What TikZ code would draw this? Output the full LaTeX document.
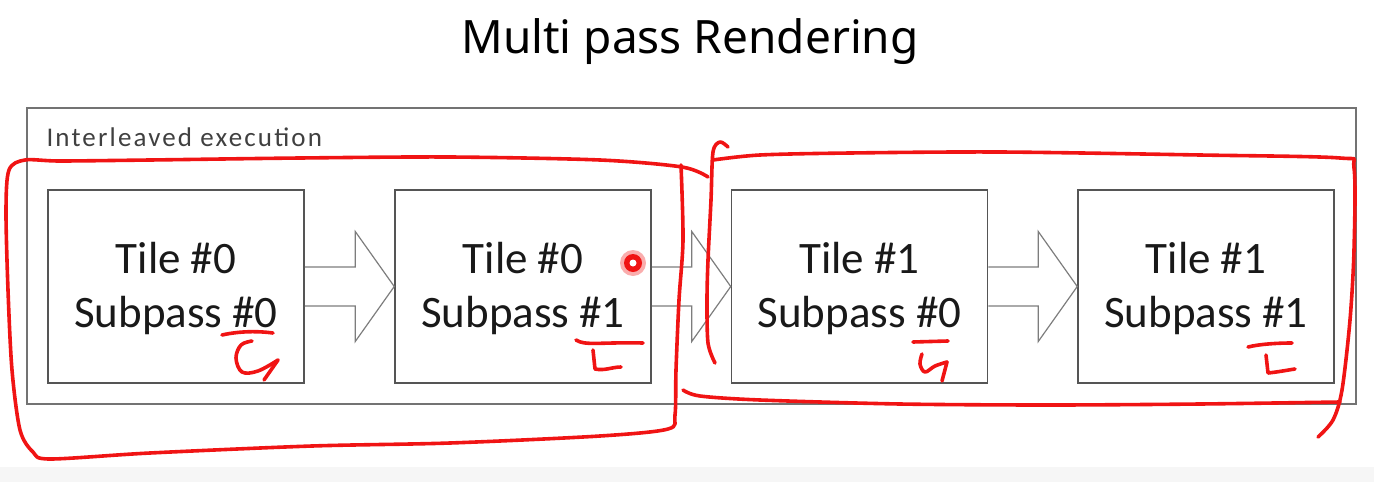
\documentclass[tikz,border=0pt]{standalone}
\usepackage{fontspec}
\setmainfont{Carlito}
\newfontfamily\titlefont{Noto Sans}
\newfontfamily\labelfont[LetterSpace=8]{Carlito}
\usetikzlibrary{calc}
\definecolor{boxgray}{RGB}{85,85,85}
\definecolor{outergray}{RGB}{115,115,115}
\definecolor{arrowgray}{RGB}{125,125,125}
\definecolor{annot}{RGB}{240,20,20}
\definecolor{band}{RGB}{246,246,246}
\newcommand{\upstrut}{\rule{0pt}{35pt}}
\tikzset{
  tilebox/.style={draw=boxgray, line width=1.5pt, minimum width=256pt, minimum height=193pt,
    inner sep=0pt, align=center, font=\fontsize{45}{54}\selectfont, text=black!90},
  outerbox/.style={draw=outergray, line width=1.3pt, minimum width=1329pt, minimum height=296pt, inner sep=0pt},
  blockarrow/.style={draw=arrowgray, line width=1.2pt, line join=miter},
  annotline/.style={draw=annot, line width=3.6pt, line cap=round, line join=round},
}
\begin{document}
\begin{tikzpicture}[x=1pt,y=-1pt]
\useasboundingbox (0,0) rectangle (1374,482);
\fill[band] (0,467) rectangle (1374,482);
% title
\node[font=\titlefont\fontsize{46}{52}\selectfont, anchor=base] (title) at (690,53) {Multi pass Rendering};
% outer frame
\node[outerbox] (outer) at (691.5,256) {};
\node[font=\labelfont\fontsize{27}{30}\selectfont, anchor=base west, text=black!75] (lbl) at (43,146) {Interleaved execution};
% tiles
\node[tilebox] (b1) at (176,286.5) {\upstrut Tile \#0\\Subpass \#0};
\node[tilebox] (b2) at (523,286.5) {\upstrut Tile \#0\\Subpass \#1};
\node[tilebox] (b3) at (859.5,286.5) {\upstrut Tile \#1\\Subpass \#0};
\node[tilebox] (b4) at (1206,286.5) {\upstrut Tile \#1\\Subpass \#1};
% block arrows
\foreach \a/\b in {b1/b2,b2/b3,b3/b4}{
  \draw[blockarrow] ($(\a.east)+(0,-19.5)$) -- ($(\b.west)+(-39,-19.5)$) -- ($(\b.west)+(-39,-55)$)
    -- (\b.west) -- ($(\b.west)+(-39,55)$) -- ($(\b.west)+(-39,19.5)$) -- ($(\a.east)+(0,19.5)$);
}
% red annotations: left loop
\draw[annotline] plot[smooth, tension=0.5] coordinates {(708,177) (682,167) (600,160) (450,157) (300,158) (150,160) (60,161) (25,160) (9,170) (6,210) (8,290) (12,370) (20,430) (33,452) (50,459) (150,453) (312,446) (450,443) (600,436) (668,429) (675,415) (676,370) (679,300) (683,240) (681,165)};
% right loop
\draw[annotline] plot[smooth, tension=0.5] coordinates {(728,147) (720,142) (713,152) (711,200) (708,260) (707,300) (708,343) (715,363)};
\draw[annotline] plot[smooth, tension=0.5] coordinates {(713,160) (760,155) (850,153) (1000,152) (1200,155) (1340,158) (1354,168) (1354,250) (1350,320) (1342,390) (1333,420) (1318,437)};
\draw[annotline] plot[smooth, tension=0.5] coordinates {(683,390) (700,396) (760,400) (900,404) (1050,405) (1200,404) (1340,402)};
% underlines and letters
\draw[annotline] (222,335) .. controls (240,331) and (258,331) .. (273,333);
\draw[annotline] plot[smooth, tension=0.6] coordinates {(252,341) (241,345) (236,358) (242,372) (258,371) (278,360)};
\draw[annotline] (278,360) -- (264,380);
\draw[annotline] (576,340) .. controls (585,346) and (600,342) .. (643,343);
\draw[annotline] (593,350) -- (595,369) .. controls (605,371) and (612,367) .. (621,367);
\draw[annotline] (913,342) -- (948,341);
\draw[annotline] plot[smooth, tension=0.6] coordinates {(922,354) (920,364) (925,372) (935,366) (947,362)};
\draw[annotline] (947,362) -- (942,381);
\draw[annotline] (1248,347) .. controls (1260,344) and (1278,343) .. (1292,343);
\draw[annotline] (1266,355) -- (1268,373) .. controls (1278,372) and (1288,370) .. (1295,369);
% pointer dot
\fill[annot!35] (633,263) circle (13);
\fill[annot] (633,263) circle (9);
\fill[white] (633,263) circle (3.5);
\end{tikzpicture}
\end{document}
